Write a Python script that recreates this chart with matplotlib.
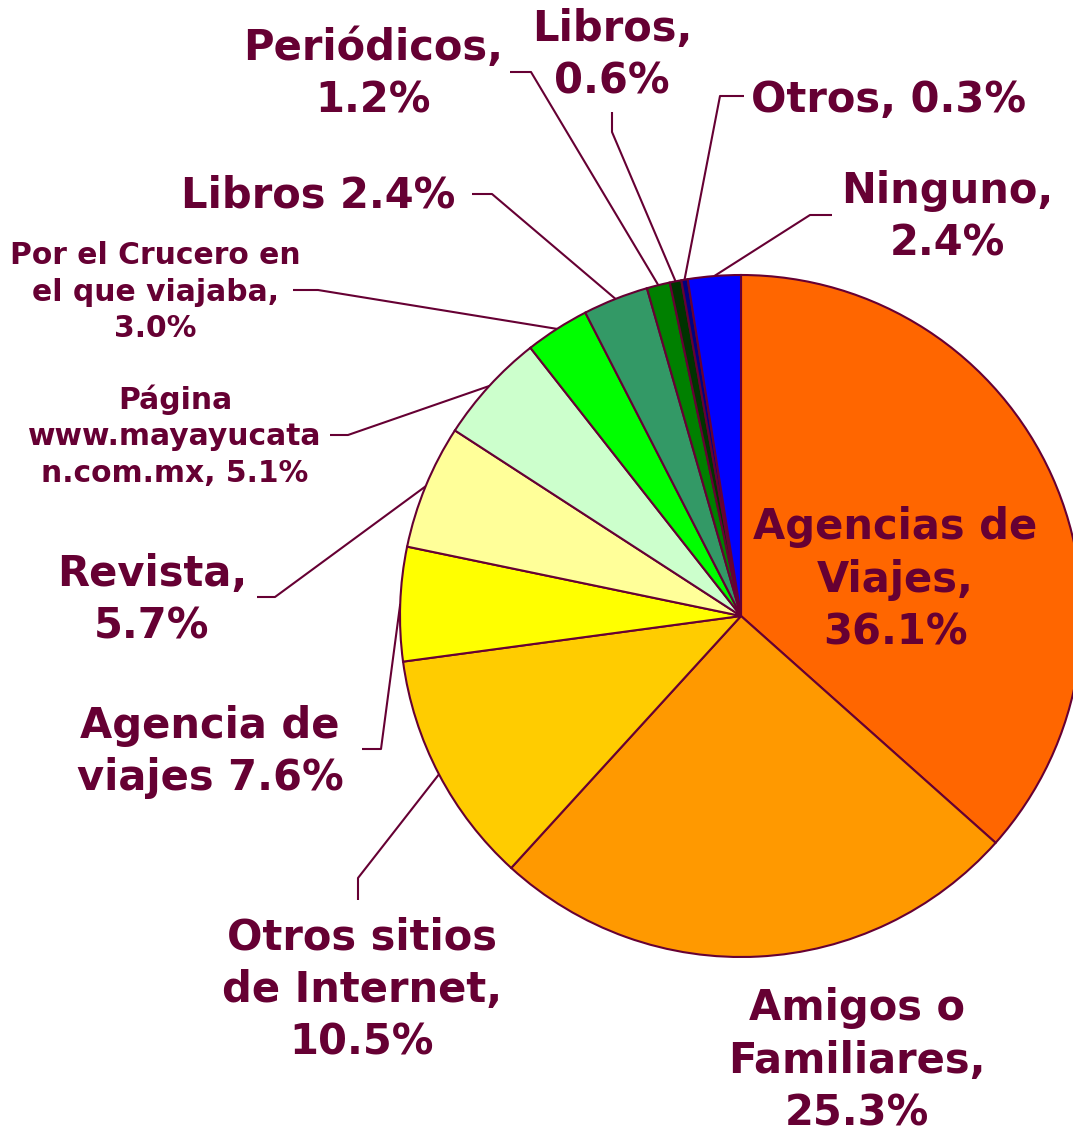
import numpy as np
import matplotlib
matplotlib.use("Agg")
import matplotlib.pyplot as plt

# ---- data ----
# label texts as printed on the chart
categories = ["Agencias de\nViajes,\n36.1%", "Amigos o\nFamiliares,\n25.3%",
              "Otros sitios\nde Internet,\n10.5%", "Agencia de\nviajes 7.6%",
              "Revista,\n5.7%", "Página\nwww.mayayucata\nn.com.mx, 5.1%",
              "Por el Crucero en\nel que viajaba,\n3.0%", "Libros 2.4%",
              "Periódicos,\n1.2%", "Libros,\n0.6%", "Otros, 0.3%", "Ninguno,\n2.4%"]
# slice sizes as drawn in the picture (%)
values = [36.6, 25.2, 11.1, 5.4, 5.9, 5.25, 3.05, 3.1, 1.1, 0.55, 0.3, 2.5]
colors = ["#FF6600", "#FF9900", "#FFCC00", "#FFFF00", "#FFFF99", "#CCFFCC",
          "#00FF00", "#339966", "#008000", "#003300", "#000080", "#0000FF"]

W, H = 1073, 1138
TXT = "#660033"
fig = plt.figure(figsize=(W / 100, H / 100), dpi=100)
ax = fig.add_axes([0, 0, 1, 1])

cx, cy, R = 741, H - 616, 341
wedges, _ = ax.pie(values, colors=colors, startangle=90, counterclock=False,
                   center=(cx, cy), radius=R,
                   wedgeprops=dict(edgecolor=TXT, linewidth=1.5))
ax.set_xlim(0, W)
ax.set_ylim(0, H)
ax.set_aspect("equal")
ax.axis("off")

def py(y):
    return H - y

big, small = 30, 21.4
label_cfg = [
    ((895, 580), big, None),
    ((857, 1061), big, None),
    ((362, 990), big, [(358, 900), (358, 878)]),
    ((210, 752), big, [(362, 749), (381, 749)]),
    ((152, 600), big, [(257, 597), (275, 597)]),
    ((175, 436), small, [(330, 435), (348, 435)]),
    ((155, 292), small, [(293, 290), (318, 290)]),
    ((318, 195), big, [(472, 194), (492, 194)]),
    ((373, 74), big, [(510, 72), (531, 72)]),
    ((612, 55), big, [(612, 112), (612, 132)]),
    ((889, 100), big, [(744, 96), (720, 96)]),
    ((947, 217), big, [(832, 215), (810, 215)]),
]

for w, lab, (pos, fs, path) in zip(wedges, categories, label_cfg):
    ang = np.deg2rad((w.theta1 + w.theta2) / 2)
    ex, ey = cx + R * np.cos(ang), cy + R * np.sin(ang)
    ls = 1.32 if fs == big else 1.33
    ax.text(pos[0], py(pos[1]), lab, ha="center", va="center", fontsize=fs,
            fontweight="bold", color=TXT, family="DejaVu Sans", linespacing=ls)
    if path is not None:
        xs = [p[0] for p in path] + [ex]
        ys = [py(p[1]) for p in path] + [ey]
        ax.plot(xs, ys, color=TXT, lw=1.5, solid_capstyle="butt", zorder=0.5)

fig.savefig("out.png", dpi=100, facecolor="white")
